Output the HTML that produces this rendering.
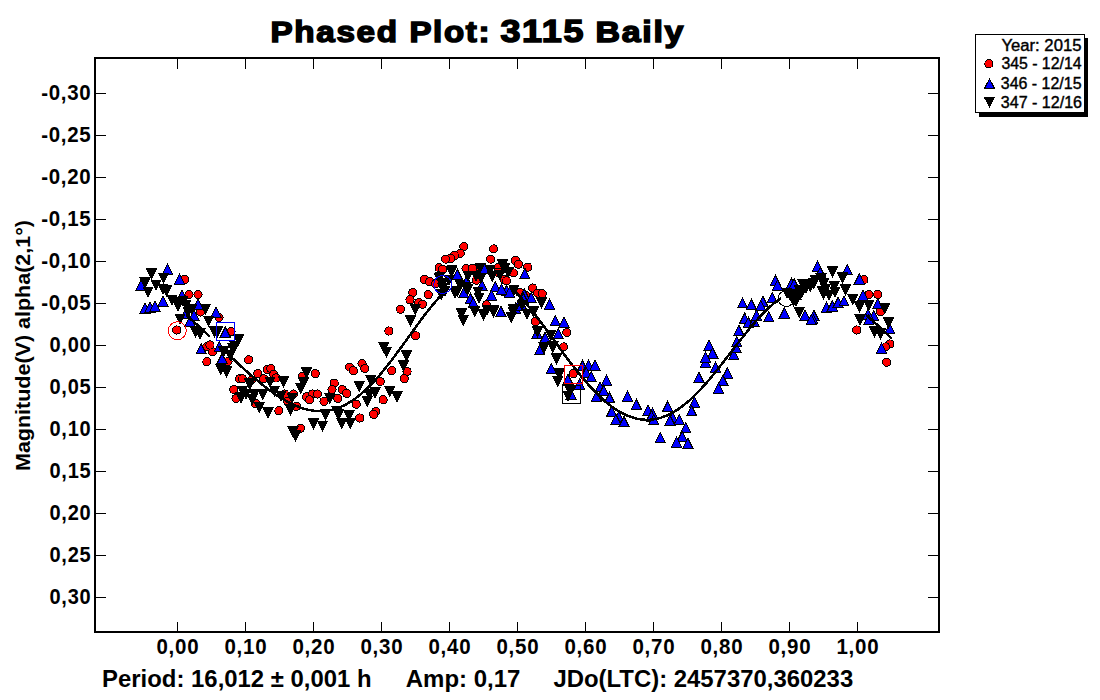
<!DOCTYPE html><html><head><meta charset="utf-8"><title>Phased Plot: 3115 Baily</title>
<style>html,body{margin:0;padding:0;background:#fff;width:1100px;height:700px;overflow:hidden}svg{display:block}text{font-family:'Liberation Sans', Arial, Helvetica, sans-serif}</style></head><body>
<svg width="1100" height="700" viewBox="0 0 1100 700">
<rect x="0" y="0" width="1100" height="700" fill="#fff"/>
<text y="42" font-size="30" font-weight="bold" stroke="#000" stroke-width="1.5" letter-spacing="1.5"><tspan x="270.50" font-size="30.00" textLength="128.10" lengthAdjust="spacingAndGlyphs">Phased</tspan> <tspan x="409.40" font-size="30.00" textLength="81.70" lengthAdjust="spacingAndGlyphs">Plot:</tspan> <tspan x="500.40" font-size="32.10" textLength="84.70" lengthAdjust="spacingAndGlyphs">3115</tspan> <tspan x="595.60" font-size="30.00" textLength="89.60" lengthAdjust="spacingAndGlyphs">Baily</tspan></text>
<rect x="95" y="58" width="844" height="574" fill="none" stroke="#000" stroke-width="2"/>
<path d="M96 93.5H106M928 93.5H938M96 135.5H106M928 135.5H938M96 177.5H106M928 177.5H938M96 219.5H106M928 219.5H938M96 261.5H106M928 261.5H938M96 303.5H106M928 303.5H938M96 345.5H106M928 345.5H938M96 387.5H106M928 387.5H938M96 429.5H106M928 429.5H938M96 471.5H106M928 471.5H938M96 513.5H106M928 513.5H938M96 555.5H106M928 555.5H938M96 597.5H106M928 597.5H938M177.5 59V69M177.5 622V631M245.5 59V69M245.5 622V631M313.5 59V69M313.5 622V631M381.5 59V69M381.5 622V631M449.5 59V69M449.5 622V631M517.5 59V69M517.5 622V631M585.5 59V69M585.5 622V631M653.5 59V69M653.5 622V631M721.5 59V69M721.5 622V631M789.5 59V69M789.5 622V631M857.5 59V69M857.5 622V631" stroke="#000" stroke-width="1" fill="none"/>
<text x="91.5" y="100.3" font-size="22" font-weight="bold" letter-spacing="0.8" text-anchor="end" textLength="50.36" lengthAdjust="spacingAndGlyphs">-0,30</text>
<text x="91.5" y="142.3" font-size="22" font-weight="bold" letter-spacing="0.8" text-anchor="end" textLength="50.36" lengthAdjust="spacingAndGlyphs">-0,25</text>
<text x="91.5" y="184.3" font-size="22" font-weight="bold" letter-spacing="0.8" text-anchor="end" textLength="50.36" lengthAdjust="spacingAndGlyphs">-0,20</text>
<text x="91.5" y="226.3" font-size="22" font-weight="bold" letter-spacing="0.8" text-anchor="end" textLength="50.36" lengthAdjust="spacingAndGlyphs">-0,15</text>
<text x="91.5" y="268.3" font-size="22" font-weight="bold" letter-spacing="0.8" text-anchor="end" textLength="50.36" lengthAdjust="spacingAndGlyphs">-0,10</text>
<text x="91.5" y="310.3" font-size="22" font-weight="bold" letter-spacing="0.8" text-anchor="end" textLength="50.36" lengthAdjust="spacingAndGlyphs">-0,05</text>
<text x="91.4" y="352.3" font-size="22" font-weight="bold" letter-spacing="0.8" text-anchor="end" textLength="41.87" lengthAdjust="spacingAndGlyphs">0,00</text>
<text x="91.4" y="394.3" font-size="22" font-weight="bold" letter-spacing="0.8" text-anchor="end" textLength="41.87" lengthAdjust="spacingAndGlyphs">0,05</text>
<text x="91.4" y="436.3" font-size="22" font-weight="bold" letter-spacing="0.8" text-anchor="end" textLength="41.87" lengthAdjust="spacingAndGlyphs">0,10</text>
<text x="91.4" y="478.3" font-size="22" font-weight="bold" letter-spacing="0.8" text-anchor="end" textLength="41.87" lengthAdjust="spacingAndGlyphs">0,15</text>
<text x="91.4" y="520.3" font-size="22" font-weight="bold" letter-spacing="0.8" text-anchor="end" textLength="41.87" lengthAdjust="spacingAndGlyphs">0,20</text>
<text x="91.4" y="562.3" font-size="22" font-weight="bold" letter-spacing="0.8" text-anchor="end" textLength="41.87" lengthAdjust="spacingAndGlyphs">0,25</text>
<text x="91.4" y="604.3" font-size="22" font-weight="bold" letter-spacing="0.8" text-anchor="end" textLength="41.87" lengthAdjust="spacingAndGlyphs">0,30</text>
<text x="177.9" y="653.7" font-size="22" font-weight="bold" letter-spacing="0.8" text-anchor="middle" textLength="42.87" lengthAdjust="spacingAndGlyphs">0,00</text>
<text x="245.9" y="653.7" font-size="22" font-weight="bold" letter-spacing="0.8" text-anchor="middle" textLength="42.87" lengthAdjust="spacingAndGlyphs">0,10</text>
<text x="313.9" y="653.7" font-size="22" font-weight="bold" letter-spacing="0.8" text-anchor="middle" textLength="42.87" lengthAdjust="spacingAndGlyphs">0,20</text>
<text x="381.9" y="653.7" font-size="22" font-weight="bold" letter-spacing="0.8" text-anchor="middle" textLength="42.87" lengthAdjust="spacingAndGlyphs">0,30</text>
<text x="449.9" y="653.7" font-size="22" font-weight="bold" letter-spacing="0.8" text-anchor="middle" textLength="42.87" lengthAdjust="spacingAndGlyphs">0,40</text>
<text x="517.9" y="653.7" font-size="22" font-weight="bold" letter-spacing="0.8" text-anchor="middle" textLength="42.87" lengthAdjust="spacingAndGlyphs">0,50</text>
<text x="585.9" y="653.7" font-size="22" font-weight="bold" letter-spacing="0.8" text-anchor="middle" textLength="42.87" lengthAdjust="spacingAndGlyphs">0,60</text>
<text x="653.9" y="653.7" font-size="22" font-weight="bold" letter-spacing="0.8" text-anchor="middle" textLength="42.87" lengthAdjust="spacingAndGlyphs">0,70</text>
<text x="721.9" y="653.7" font-size="22" font-weight="bold" letter-spacing="0.8" text-anchor="middle" textLength="42.87" lengthAdjust="spacingAndGlyphs">0,80</text>
<text x="789.9" y="653.7" font-size="22" font-weight="bold" letter-spacing="0.8" text-anchor="middle" textLength="42.87" lengthAdjust="spacingAndGlyphs">0,90</text>
<text x="857.9" y="653.7" font-size="22" font-weight="bold" letter-spacing="0.8" text-anchor="middle" textLength="42.87" lengthAdjust="spacingAndGlyphs">1,00</text>
<text transform="translate(30 471) rotate(-90)" x="0" y="0" font-size="21" font-weight="bold" textLength="251" lengthAdjust="spacingAndGlyphs">Magnitude(V) alpha(2,1°)</text>
<text x="102.1" y="686.8" font-size="23.5" font-weight="bold" textLength="269.5" lengthAdjust="spacingAndGlyphs">Period: 16,012 ± 0,001 h</text>
<text x="405.8" y="686.8" font-size="23.5" font-weight="bold" textLength="114.6" lengthAdjust="spacingAndGlyphs">Amp: 0,17</text>
<text x="553.4" y="686.8" font-size="23.5" font-weight="bold" textLength="299.8" lengthAdjust="spacingAndGlyphs">JDo(LTC): 2457370,360233</text>
<rect x="979" y="38" width="109" height="79" fill="#000"/>
<rect x="975.5" y="34.5" width="109" height="78" fill="#fff" stroke="#000" stroke-width="1"/>
<text x="1001.40" y="50.7" font-size="16" stroke="#000" stroke-width="0.4" textLength="80.10" lengthAdjust="spacingAndGlyphs">Year: 2015</text>
<text x="1001.40" y="69.4" font-size="16" stroke="#000" stroke-width="0.4" textLength="80.10" lengthAdjust="spacingAndGlyphs">345 - 12/14</text>
<text x="1000.80" y="88.6" font-size="16" stroke="#000" stroke-width="0.4" textLength="80.70" lengthAdjust="spacingAndGlyphs">346 - 12/15</text>
<text x="1000.80" y="107.5" font-size="16" stroke="#000" stroke-width="0.4" textLength="81.20" lengthAdjust="spacingAndGlyphs">347 - 12/16</text>
<g shape-rendering="crispEdges"><circle cx="988.9" cy="63.8" r="4.1" fill="#f00" stroke="#000" stroke-width="1"/>
<path d="M989.5 78.8L994.6 88.6H984.4Z" fill="#00f" stroke="#000" stroke-width="1"/>
<path d="M984.4 97.2H994.6L989.5 107.3Z" fill="#000" stroke="#000" stroke-width="1"/></g>
<defs><clipPath id="pc"><rect x="96" y="59" width="842" height="572"/></clipPath></defs>
<g clip-path="url(#pc)" shape-rendering="crispEdges">
<g fill="#f00" stroke="#000" stroke-width="1"><circle cx="184.5" cy="279.5" r="4.1"/><circle cx="189.0" cy="294.5" r="4.1"/><circle cx="198.0" cy="294.5" r="4.1"/><circle cx="200.5" cy="312.0" r="4.1"/><circle cx="219.0" cy="317.5" r="4.1"/><circle cx="176.8" cy="330.0" r="4.1"/><circle cx="231.1" cy="331.5" r="4.1"/><circle cx="206.9" cy="346.7" r="4.1"/><circle cx="212.7" cy="351.8" r="4.1"/><circle cx="210.0" cy="345.0" r="4.1"/><circle cx="206.9" cy="361.7" r="4.1"/><circle cx="228.0" cy="361.3" r="4.1"/><circle cx="248.7" cy="359.8" r="4.1"/><circle cx="257.8" cy="373.6" r="4.1"/><circle cx="267.3" cy="369.3" r="4.1"/><circle cx="270.9" cy="368.5" r="4.1"/><circle cx="273.8" cy="374.4" r="4.1"/><circle cx="263.6" cy="378.7" r="4.1"/><circle cx="276.0" cy="378.0" r="4.1"/><circle cx="239.6" cy="378.7" r="4.1"/><circle cx="242.5" cy="378.7" r="4.1"/><circle cx="251.3" cy="380.2" r="4.1"/><circle cx="302.2" cy="376.5" r="4.1"/><circle cx="315.3" cy="373.6" r="4.1"/><circle cx="233.8" cy="389.6" r="4.1"/><circle cx="236.0" cy="398.4" r="4.1"/><circle cx="284.7" cy="394.0" r="4.1"/><circle cx="293.5" cy="394.0" r="4.1"/><circle cx="287.6" cy="401.3" r="4.1"/><circle cx="255.6" cy="403.5" r="4.1"/><circle cx="278.9" cy="410.7" r="4.1"/><circle cx="296.4" cy="406.4" r="4.1"/><circle cx="306.5" cy="396.9" r="4.1"/><circle cx="312.4" cy="394.0" r="4.1"/><circle cx="317.5" cy="394.0" r="4.1"/><circle cx="309.5" cy="399.8" r="4.1"/><circle cx="324.0" cy="401.3" r="4.1"/><circle cx="334.2" cy="383.1" r="4.1"/><circle cx="332.0" cy="389.6" r="4.1"/><circle cx="337.8" cy="398.4" r="4.1"/><circle cx="300.4" cy="428.4" r="4.1"/><circle cx="388.9" cy="331.0" r="4.1"/><circle cx="415.8" cy="335.8" r="4.1"/><circle cx="391.8" cy="370.7" r="4.1"/><circle cx="407.1" cy="371.5" r="4.1"/><circle cx="404.2" cy="378.7" r="4.1"/><circle cx="349.6" cy="367.1" r="4.1"/><circle cx="353.3" cy="370.7" r="4.1"/><circle cx="362.0" cy="363.5" r="4.1"/><circle cx="364.9" cy="368.5" r="4.1"/><circle cx="380.2" cy="381.6" r="4.1"/><circle cx="342.4" cy="389.6" r="4.1"/><circle cx="346.7" cy="393.3" r="4.1"/><circle cx="383.1" cy="399.8" r="4.1"/><circle cx="356.2" cy="404.2" r="4.1"/><circle cx="375.8" cy="411.5" r="4.1"/><circle cx="373.6" cy="414.4" r="4.1"/><circle cx="359.8" cy="418.0" r="4.1"/><circle cx="463.8" cy="246.7" r="4.1"/><circle cx="460.2" cy="253.3" r="4.1"/><circle cx="454.4" cy="255.5" r="4.1"/><circle cx="450.7" cy="258.4" r="4.1"/><circle cx="445.6" cy="259.1" r="4.1"/><circle cx="493.6" cy="248.9" r="4.1"/><circle cx="490.7" cy="259.1" r="4.1"/><circle cx="439.1" cy="267.8" r="4.1"/><circle cx="442.7" cy="269.3" r="4.1"/><circle cx="424.5" cy="279.5" r="4.1"/><circle cx="429.6" cy="281.6" r="4.1"/><circle cx="435.5" cy="283.8" r="4.1"/><circle cx="412.9" cy="292.5" r="4.1"/><circle cx="410.0" cy="299.8" r="4.1"/><circle cx="428.2" cy="294.7" r="4.1"/><circle cx="418.7" cy="302.7" r="4.1"/><circle cx="422.4" cy="304.2" r="4.1"/><circle cx="400.5" cy="309.3" r="4.1"/><circle cx="466.0" cy="268.5" r="4.1"/><circle cx="472.5" cy="268.5" r="4.1"/><circle cx="480.5" cy="267.8" r="4.1"/><circle cx="476.2" cy="280.2" r="4.1"/><circle cx="498.7" cy="267.1" r="4.1"/><circle cx="498.0" cy="272.2" r="4.1"/><circle cx="513.3" cy="272.9" r="4.1"/><circle cx="515.5" cy="260.5" r="4.1"/><circle cx="518.4" cy="264.2" r="4.1"/><circle cx="527.8" cy="267.1" r="4.1"/><circle cx="504.5" cy="279.5" r="4.1"/><circle cx="486.4" cy="304.9" r="4.1"/><circle cx="519.8" cy="292.5" r="4.1"/><circle cx="506.5" cy="280.7" r="4.1"/><circle cx="532.7" cy="288.0" r="4.1"/><circle cx="537.8" cy="293.1" r="4.1"/><circle cx="542.2" cy="293.8" r="4.1"/><circle cx="525.5" cy="295.3" r="4.1"/><circle cx="535.6" cy="321.5" r="4.1"/><circle cx="566.9" cy="332.4" r="4.1"/><circle cx="563.6" cy="346.9" r="4.1"/><circle cx="573.1" cy="373.8" r="4.1"/><circle cx="863.9" cy="279.8" r="4.1"/><circle cx="869.0" cy="294.4" r="4.1"/><circle cx="877.7" cy="294.4" r="4.1"/><circle cx="880.4" cy="311.8" r="4.1"/><circle cx="856.8" cy="330.0" r="4.1"/><circle cx="889.8" cy="344.0" r="4.1"/><circle cx="885.6" cy="346.9" r="4.1"/><circle cx="886.7" cy="362.2" r="4.1"/></g>
<g fill="#00f" stroke="#000" stroke-width="1"><path d="M167.5 264.3l5.1 10.2h-10.2z"/><path d="M179.5 274.3l5.1 10.2h-10.2z"/><path d="M141.0 280.3l5.1 10.2h-10.2z"/><path d="M182.0 289.8l5.1 10.2h-10.2z"/><path d="M145.0 302.8l5.1 10.2h-10.2z"/><path d="M150.0 301.8l5.1 10.2h-10.2z"/><path d="M155.0 300.8l5.1 10.2h-10.2z"/><path d="M163.0 295.8l5.1 10.2h-10.2z"/><path d="M198.0 298.8l5.1 10.2h-10.2z"/><path d="M194.0 309.8l5.1 10.2h-10.2z"/><path d="M186.0 307.8l5.1 10.2h-10.2z"/><path d="M216.0 306.8l5.1 10.2h-10.2z"/><path d="M190.0 315.8l5.1 10.2h-10.2z"/><path d="M225.3 327.0l5.1 10.2h-10.2z"/><path d="M201.1 343.7l5.1 10.2h-10.2z"/><path d="M219.3 341.5l5.1 10.2h-10.2z"/><path d="M222.2 353.2l5.1 10.2h-10.2z"/><path d="M457.3 269.2l5.1 10.2h-10.2z"/><path d="M484.9 263.3l5.1 10.2h-10.2z"/><path d="M466.7 275.7l5.1 10.2h-10.2z"/><path d="M482.0 280.1l5.1 10.2h-10.2z"/><path d="M463.8 287.3l5.1 10.2h-10.2z"/><path d="M470.4 293.2l5.1 10.2h-10.2z"/><path d="M473.3 297.5l5.1 10.2h-10.2z"/><path d="M524.9 268.4l5.1 10.2h-10.2z"/><path d="M495.1 281.5l5.1 10.2h-10.2z"/><path d="M491.5 290.3l5.1 10.2h-10.2z"/><path d="M506.7 285.2l5.1 10.2h-10.2z"/><path d="M500.9 306.3l5.1 10.2h-10.2z"/><path d="M515.5 303.3l5.1 10.2h-10.2z"/><path d="M524.2 288.8l5.1 10.2h-10.2z"/><path d="M521.3 299.0l5.1 10.2h-10.2z"/><path d="M509.5 287.2l5.1 10.2h-10.2z"/><path d="M501.5 284.3l5.1 10.2h-10.2z"/><path d="M531.3 292.3l5.1 10.2h-10.2z"/><path d="M523.3 293.0l5.1 10.2h-10.2z"/><path d="M549.5 298.8l5.1 10.2h-10.2z"/><path d="M518.2 300.3l5.1 10.2h-10.2z"/><path d="M555.3 315.5l5.1 10.2h-10.2z"/><path d="M564.0 317.0l5.1 10.2h-10.2z"/><path d="M537.1 327.9l5.1 10.2h-10.2z"/><path d="M558.2 328.6l5.1 10.2h-10.2z"/><path d="M545.1 332.3l5.1 10.2h-10.2z"/><path d="M539.6 344.6l5.1 10.2h-10.2z"/><path d="M551.3 363.5l5.1 10.2h-10.2z"/><path d="M582.5 360.6l5.1 10.2h-10.2z"/><path d="M588.4 359.9l5.1 10.2h-10.2z"/><path d="M594.9 359.9l5.1 10.2h-10.2z"/><path d="M586.2 367.2l5.1 10.2h-10.2z"/><path d="M591.3 371.5l5.1 10.2h-10.2z"/><path d="M568.0 374.4l5.1 10.2h-10.2z"/><path d="M579.6 378.8l5.1 10.2h-10.2z"/><path d="M570.9 389.0l5.1 10.2h-10.2z"/><path d="M606.5 375.2l5.1 10.2h-10.2z"/><path d="M600.0 381.7l5.1 10.2h-10.2z"/><path d="M603.6 385.3l5.1 10.2h-10.2z"/><path d="M596.4 391.2l5.1 10.2h-10.2z"/><path d="M609.5 392.6l5.1 10.2h-10.2z"/><path d="M627.6 391.2l5.1 10.2h-10.2z"/><path d="M636.4 399.2l5.1 10.2h-10.2z"/><path d="M648.0 405.0l5.1 10.2h-10.2z"/><path d="M652.4 407.9l5.1 10.2h-10.2z"/><path d="M667.6 401.3l5.1 10.2h-10.2z"/><path d="M611.6 406.4l5.1 10.2h-10.2z"/><path d="M618.9 411.5l5.1 10.2h-10.2z"/><path d="M672.7 412.3l5.1 10.2h-10.2z"/><path d="M616.0 414.4l5.1 10.2h-10.2z"/><path d="M624.0 416.6l5.1 10.2h-10.2z"/><path d="M651.6 410.8l5.1 10.2h-10.2z"/><path d="M653.8 414.4l5.1 10.2h-10.2z"/><path d="M669.8 415.2l5.1 10.2h-10.2z"/><path d="M679.3 414.4l5.1 10.2h-10.2z"/><path d="M685.8 422.4l5.1 10.2h-10.2z"/><path d="M660.4 432.6l5.1 10.2h-10.2z"/><path d="M682.2 431.2l5.1 10.2h-10.2z"/><path d="M676.4 437.0l5.1 10.2h-10.2z"/><path d="M688.0 438.4l5.1 10.2h-10.2z"/><path d="M694.5 397.0l5.1 10.2h-10.2z"/><path d="M691.6 405.7l5.1 10.2h-10.2z"/><path d="M698.9 372.3l5.1 10.2h-10.2z"/><path d="M705.5 357.0l5.1 10.2h-10.2z"/><path d="M715.6 362.1l5.1 10.2h-10.2z"/><path d="M727.3 367.9l5.1 10.2h-10.2z"/><path d="M722.9 375.2l5.1 10.2h-10.2z"/><path d="M718.5 383.2l5.1 10.2h-10.2z"/><path d="M709.1 339.9l5.1 10.2h-10.2z"/><path d="M712.7 347.9l5.1 10.2h-10.2z"/><path d="M705.5 352.3l5.1 10.2h-10.2z"/><path d="M733.8 349.3l5.1 10.2h-10.2z"/><path d="M736.0 342.1l5.1 10.2h-10.2z"/><path d="M736.7 336.3l5.1 10.2h-10.2z"/><path d="M738.9 325.3l5.1 10.2h-10.2z"/><path d="M744.7 313.0l5.1 10.2h-10.2z"/><path d="M748.4 317.3l5.1 10.2h-10.2z"/><path d="M754.2 316.6l5.1 10.2h-10.2z"/><path d="M756.4 310.1l5.1 10.2h-10.2z"/><path d="M742.5 297.7l5.1 10.2h-10.2z"/><path d="M751.3 299.2l5.1 10.2h-10.2z"/><path d="M762.9 296.3l5.1 10.2h-10.2z"/><path d="M760.7 300.6l5.1 10.2h-10.2z"/><path d="M768.7 311.5l5.1 10.2h-10.2z"/><path d="M772.4 292.6l5.1 10.2h-10.2z"/><path d="M775.3 275.2l5.1 10.2h-10.2z"/><path d="M777.5 280.3l5.1 10.2h-10.2z"/><path d="M791.3 278.1l5.1 10.2h-10.2z"/><path d="M794.2 278.8l5.1 10.2h-10.2z"/><path d="M784.0 307.9l5.1 10.2h-10.2z"/><path d="M796.4 289.7l5.1 10.2h-10.2z"/><path d="M805.1 310.1l5.1 10.2h-10.2z"/><path d="M813.8 310.1l5.1 10.2h-10.2z"/><path d="M812.4 313.0l5.1 10.2h-10.2z"/><path d="M817.5 260.8l5.1 10.2h-10.2z"/><path d="M820.4 267.2l5.1 10.2h-10.2z"/><path d="M847.2 264.4l5.1 10.2h-10.2z"/><path d="M859.3 273.9l5.1 10.2h-10.2z"/><path d="M862.9 289.9l5.1 10.2h-10.2z"/><path d="M826.5 302.3l5.1 10.2h-10.2z"/><path d="M832.4 300.8l5.1 10.2h-10.2z"/><path d="M838.2 297.2l5.1 10.2h-10.2z"/><path d="M844.0 295.7l5.1 10.2h-10.2z"/><path d="M877.7 298.6l5.1 10.2h-10.2z"/><path d="M873.8 310.3l5.1 10.2h-10.2z"/><path d="M868.0 308.8l5.1 10.2h-10.2z"/><path d="M784.4 308.1l5.1 10.2h-10.2z"/><path d="M811.3 314.6l5.1 10.2h-10.2z"/><path d="M889.8 323.3l5.1 10.2h-10.2z"/><path d="M881.5 343.3l5.1 10.2h-10.2z"/><path d="M868.7 314.4l5.1 10.2h-10.2z"/></g>
<polyline points="186.0,315.0 188.0,316.8 190.0,318.5 192.0,320.2 194.0,322.0 196.0,323.8 198.0,325.6 200.0,327.5 202.0,329.3 204.0,331.2 206.0,333.1 208.0,334.9 210.0,336.8" fill="none" stroke="#000" stroke-width="2.5" stroke-linejoin="round"/>
<polyline points="232.0,357.9 234.0,359.7 236.0,361.6 238.0,363.5 240.0,365.3 242.0,367.2 244.0,369.0 246.0,370.8 248.0,372.6 250.0,374.3 252.0,376.1 254.0,377.8 256.0,379.5 258.0,381.1 260.0,382.8 262.0,384.4 264.0,386.0 266.0,387.5 268.0,389.0 270.0,390.5 272.0,392.0 274.0,393.4 276.0,394.7 278.0,396.1 280.0,397.3 282.0,398.6 284.0,399.8 286.0,400.9 288.0,402.0 290.0,403.0 292.0,404.0 294.0,404.9 296.0,405.8 298.0,406.6 300.0,407.4 302.0,408.1 304.0,408.7 306.0,409.2 308.0,409.7 310.0,410.1 312.0,410.5 314.0,410.8 316.0,411.0 318.0,411.1 320.0,411.1 322.0,411.1 324.0,411.0 326.0,410.8 328.0,410.5 330.0,410.2 332.0,409.7 334.0,409.2 336.0,408.6 338.0,407.9 340.0,407.2 342.0,406.3 344.0,405.4 346.0,404.4 348.0,403.2 350.0,402.0 352.0,400.8 354.0,399.4 356.0,398.0 358.0,396.4 360.0,394.8 362.0,393.1 364.0,391.4 366.0,389.5 368.0,387.6 370.0,385.6 372.0,383.6 374.0,381.4 376.0,379.2 378.0,377.0 380.0,374.7 382.0,372.3 384.0,369.9 386.0,367.4 388.0,364.9 390.0,362.3 392.0,359.7 394.0,357.0 396.0,354.3 398.0,351.6 400.0,348.9 402.0,346.1 404.0,343.4 406.0,340.6 408.0,337.8 410.0,335.0 412.0,332.2 414.0,329.5 416.0,326.7 418.0,324.0 420.0,321.3 422.0,318.6 424.0,315.9 426.0,313.3 428.0,310.7 430.0,308.2 432.0,305.8 434.0,303.4 436.0,301.0 438.0,298.7 440.0,296.5 442.0,294.4 444.0,292.4 446.0,290.4" fill="none" stroke="#000" stroke-width="2.5" stroke-linejoin="round"/>
<polyline points="511.0,287.8 513.0,289.6 515.0,291.5 517.0,293.5 519.0,295.6 521.0,297.7 523.0,299.9 525.0,302.2 527.0,304.6 529.0,307.0 531.0,309.5 533.0,312.0 535.0,314.5 537.0,317.1 539.0,319.8 541.0,322.5 543.0,325.1 545.0,327.9 547.0,330.6 549.0,333.4 551.0,336.1 553.0,338.9 555.0,341.7 557.0,344.4 559.0,347.2 561.0,350.0 563.0,352.7 565.0,355.4 567.0,358.1 569.0,360.8 571.0,363.4 573.0,366.0 575.0,368.6 577.0,371.1 579.0,373.6 581.0,376.1 583.0,378.5 585.0,380.8 587.0,383.1 589.0,385.4 591.0,387.6 593.0,389.7 595.0,391.8 597.0,393.8 599.0,395.7 601.0,397.6 603.0,399.4 605.0,401.2 607.0,402.8 609.0,404.4 611.0,406.0 613.0,407.4 615.0,408.8 617.0,410.1 619.0,411.3 621.0,412.5 623.0,413.5 625.0,414.5 627.0,415.4 629.0,416.3 631.0,417.0 633.0,417.6 635.0,418.2 637.0,418.7 639.0,419.1 641.0,419.4 643.0,419.6 645.0,419.8 647.0,419.8 649.0,419.8 651.0,419.7 653.0,419.4 655.0,419.1 657.0,418.7 659.0,418.3 661.0,417.7 663.0,417.0 665.0,416.3 667.0,415.5 669.0,414.5 671.0,413.5 673.0,412.4 675.0,411.3 677.0,410.0 679.0,408.7 681.0,407.2 683.0,405.7 685.0,404.1 687.0,402.5 689.0,400.8 691.0,398.9 693.0,397.1 695.0,395.1 697.0,393.1 699.0,391.1 701.0,388.9 703.0,386.7 705.0,384.5 707.0,382.2 709.0,379.9 711.0,377.5 713.0,375.1 715.0,372.6 717.0,370.1 719.0,367.6 721.0,365.1 723.0,362.5 725.0,359.9 727.0,357.3 729.0,354.7 731.0,352.1 733.0,349.5 735.0,346.9 737.0,344.3 739.0,341.7 741.0,339.2 743.0,336.7 745.0,334.2 747.0,331.7 749.0,329.2 751.0,326.8 753.0,324.5 755.0,322.2 757.0,319.9 759.0,317.7 761.0,315.6 763.0,313.5 765.0,311.5 767.0,309.5 769.0,307.6 771.0,305.8 773.0,304.1 775.0,302.4 777.0,300.9 779.0,299.4 781.0,298.0" fill="none" stroke="#000" stroke-width="2.5" stroke-linejoin="round"/>
<polyline points="866.0,315.0 868.0,316.8 870.0,318.5 872.0,320.2 874.0,322.0 876.0,323.8 878.0,325.6 880.0,327.5 882.0,329.3 884.0,331.2 886.0,333.1 888.0,334.9 890.0,336.8 892.0,338.8" fill="none" stroke="#000" stroke-width="2.5" stroke-linejoin="round"/>
<g fill="#000" stroke="#000" stroke-width="1"><path d="M146.4 268.5h10.2l-5.1 10.2z"/><path d="M158.4 273.0h10.2l-5.1 10.2z"/><path d="M139.9 277.5h10.2l-5.1 10.2z"/><path d="M150.9 280.0h10.2l-5.1 10.2z"/><path d="M157.9 284.0h10.2l-5.1 10.2z"/><path d="M142.9 287.0h10.2l-5.1 10.2z"/><path d="M166.9 295.0h10.2l-5.1 10.2z"/><path d="M172.9 301.0h10.2l-5.1 10.2z"/><path d="M180.9 300.0h10.2l-5.1 10.2z"/><path d="M200.4 304.0h10.2l-5.1 10.2z"/><path d="M174.9 314.0h10.2l-5.1 10.2z"/><path d="M203.4 316.0h10.2l-5.1 10.2z"/><path d="M190.4 326.5h10.2l-5.1 10.2z"/><path d="M194.7 328.6h10.2l-5.1 10.2z"/><path d="M209.3 326.5h10.2l-5.1 10.2z"/><path d="M233.3 334.5h10.2l-5.1 10.2z"/><path d="M229.6 341.0h10.2l-5.1 10.2z"/><path d="M228.0 343.9h10.2l-5.1 10.2z"/><path d="M218.5 346.8h10.2l-5.1 10.2z"/><path d="M225.1 350.5h10.2l-5.1 10.2z"/><path d="M215.6 364.3h10.2l-5.1 10.2z"/><path d="M221.4 366.5h10.2l-5.1 10.2z"/><path d="M244.7 378.8h10.2l-5.1 10.2z"/><path d="M278.2 376.6h10.2l-5.1 10.2z"/><path d="M301.4 367.2h10.2l-5.1 10.2z"/><path d="M298.5 377.4h10.2l-5.1 10.2z"/><path d="M295.6 383.2h10.2l-5.1 10.2z"/><path d="M237.4 386.1h10.2l-5.1 10.2z"/><path d="M249.1 389.0h10.2l-5.1 10.2z"/><path d="M257.8 389.0h10.2l-5.1 10.2z"/><path d="M236.0 392.6h10.2l-5.1 10.2z"/><path d="M269.4 386.1h10.2l-5.1 10.2z"/><path d="M254.2 402.1h10.2l-5.1 10.2z"/><path d="M262.9 407.9h10.2l-5.1 10.2z"/><path d="M285.4 404.3h10.2l-5.1 10.2z"/><path d="M324.7 393.4h10.2l-5.1 10.2z"/><path d="M320.4 409.4h10.2l-5.1 10.2z"/><path d="M331.9 406.5h10.2l-5.1 10.2z"/><path d="M308.4 418.5h10.2l-5.1 10.2z"/><path d="M317.4 421.0h10.2l-5.1 10.2z"/><path d="M287.9 426.5h10.2l-5.1 10.2z"/><path d="M378.7 342.5h10.2l-5.1 10.2z"/><path d="M401.3 350.5h10.2l-5.1 10.2z"/><path d="M398.4 360.6h10.2l-5.1 10.2z"/><path d="M365.6 375.2h10.2l-5.1 10.2z"/><path d="M354.0 381.0h10.2l-5.1 10.2z"/><path d="M364.2 389.0h10.2l-5.1 10.2z"/><path d="M370.0 387.5h10.2l-5.1 10.2z"/><path d="M384.5 386.1h10.2l-5.1 10.2z"/><path d="M391.8 391.9h10.2l-5.1 10.2z"/><path d="M362.0 396.3h10.2l-5.1 10.2z"/><path d="M333.6 409.4h10.2l-5.1 10.2z"/><path d="M343.8 410.8h10.2l-5.1 10.2z"/><path d="M336.5 418.1h10.2l-5.1 10.2z"/><path d="M345.3 418.1h10.2l-5.1 10.2z"/><path d="M410.0 304.3h10.2l-5.1 10.2z"/><path d="M405.4 315.5h10.2l-5.1 10.2z"/><path d="M434.0 273.0h10.2l-5.1 10.2z"/><path d="M437.6 283.2h10.2l-5.1 10.2z"/><path d="M436.2 289.0h10.2l-5.1 10.2z"/><path d="M446.4 266.5h10.2l-5.1 10.2z"/><path d="M452.2 286.1h10.2l-5.1 10.2z"/><path d="M460.9 282.5h10.2l-5.1 10.2z"/><path d="M487.1 271.5h10.2l-5.1 10.2z"/><path d="M497.3 259.9h10.2l-5.1 10.2z"/><path d="M503.1 267.2h10.2l-5.1 10.2z"/><path d="M456.5 308.6h10.2l-5.1 10.2z"/><path d="M458.0 315.2h10.2l-5.1 10.2z"/><path d="M469.6 306.5h10.2l-5.1 10.2z"/><path d="M478.4 309.4h10.2l-5.1 10.2z"/><path d="M488.5 306.5h10.2l-5.1 10.2z"/><path d="M506.0 312.3h10.2l-5.1 10.2z"/><path d="M536.4 297.5h10.2l-5.1 10.2z"/><path d="M508.7 304.8h10.2l-5.1 10.2z"/><path d="M528.4 306.3h10.2l-5.1 10.2z"/><path d="M545.8 330.3h10.2l-5.1 10.2z"/><path d="M532.4 326.6h10.2l-5.1 10.2z"/><path d="M538.9 342.6h10.2l-5.1 10.2z"/><path d="M547.6 341.9h10.2l-5.1 10.2z"/><path d="M551.3 353.5h10.2l-5.1 10.2z"/><path d="M554.2 368.8h10.2l-5.1 10.2z"/><path d="M552.7 376.1h10.2l-5.1 10.2z"/><path d="M565.1 386.3h10.2l-5.1 10.2z"/><path d="M788.4 295.7h10.2l-5.1 10.2z"/><path d="M793.9 285.0h10.2l-5.1 10.2z"/><path d="M800.9 283.0h10.2l-5.1 10.2z"/><path d="M794.2 307.4h10.2l-5.1 10.2z"/><path d="M827.6 266.6h10.2l-5.1 10.2z"/><path d="M816.0 273.9h10.2l-5.1 10.2z"/><path d="M820.4 284.1h10.2l-5.1 10.2z"/><path d="M829.1 281.2h10.2l-5.1 10.2z"/><path d="M808.7 278.3h10.2l-5.1 10.2z"/><path d="M837.4 272.6h10.2l-5.1 10.2z"/><path d="M798.2 279.9h10.2l-5.1 10.2z"/><path d="M818.5 278.5h10.2l-5.1 10.2z"/><path d="M840.4 284.3h10.2l-5.1 10.2z"/><path d="M818.5 288.6h10.2l-5.1 10.2z"/><path d="M789.4 291.5h10.2l-5.1 10.2z"/><path d="M847.6 294.5h10.2l-5.1 10.2z"/><path d="M854.2 301.7h10.2l-5.1 10.2z"/><path d="M863.6 300.3h10.2l-5.1 10.2z"/><path d="M879.6 303.2h10.2l-5.1 10.2z"/><path d="M854.9 314.8h10.2l-5.1 10.2z"/><path d="M883.3 317.5h10.2l-5.1 10.2z"/><path d="M869.4 326.5h10.2l-5.1 10.2z"/><path d="M875.3 328.6h10.2l-5.1 10.2z"/><path d="M161.4 285.7h10.2l-5.1 10.2z"/><path d="M182.9 307.0h10.2l-5.1 10.2z"/><path d="M177.9 296.0h10.2l-5.1 10.2z"/><path d="M186.9 304.0h10.2l-5.1 10.2z"/><path d="M170.9 297.0h10.2l-5.1 10.2z"/><path d="M212.2 326.9h10.2l-5.1 10.2z"/><path d="M796.6 287.5h10.2l-5.1 10.2z"/><path d="M784.8 289.9h10.2l-5.1 10.2z"/><path d="M817.0 286.0h10.2l-5.1 10.2z"/><path d="M805.2 281.0h10.2l-5.1 10.2z"/><path d="M829.9 287.0h10.2l-5.1 10.2z"/><path d="M809.9 275.0h10.2l-5.1 10.2z"/><path d="M791.0 295.4h10.2l-5.1 10.2z"/><path d="M446.9 265.0h10.2l-5.1 10.2z"/><path d="M434.9 272.0h10.2l-5.1 10.2z"/><path d="M439.9 286.0h10.2l-5.1 10.2z"/><path d="M449.9 288.0h10.2l-5.1 10.2z"/><path d="M454.9 280.0h10.2l-5.1 10.2z"/><path d="M462.9 271.0h10.2l-5.1 10.2z"/><path d="M470.9 271.0h10.2l-5.1 10.2z"/><path d="M462.9 284.0h10.2l-5.1 10.2z"/><path d="M472.9 287.0h10.2l-5.1 10.2z"/><path d="M443.9 275.0h10.2l-5.1 10.2z"/><path d="M474.9 263.0h10.2l-5.1 10.2z"/><path d="M484.9 265.0h10.2l-5.1 10.2z"/><path d="M494.9 270.0h10.2l-5.1 10.2z"/><path d="M475.9 273.0h10.2l-5.1 10.2z"/><path d="M499.9 263.0h10.2l-5.1 10.2z"/><path d="M473.9 293.0h10.2l-5.1 10.2z"/><path d="M481.9 305.0h10.2l-5.1 10.2z"/><path d="M488.9 305.0h10.2l-5.1 10.2z"/><path d="M507.9 307.0h10.2l-5.1 10.2z"/><path d="M508.9 285.0h10.2l-5.1 10.2z"/><path d="M516.9 300.0h10.2l-5.1 10.2z"/><path d="M521.9 309.0h10.2l-5.1 10.2z"/><path d="M264.9 377.0h10.2l-5.1 10.2z"/><path d="M247.2 394.2h10.2l-5.1 10.2z"/><path d="M275.9 391.0h10.2l-5.1 10.2z"/><path d="M240.9 389.0h10.2l-5.1 10.2z"/><path d="M286.9 393.0h10.2l-5.1 10.2z"/><path d="M437.9 278.0h10.2l-5.1 10.2z"/><path d="M781.9 288.0h10.2l-5.1 10.2z"/><path d="M562.9 391.0h10.2l-5.1 10.2z"/><path d="M290.4 430.5h10.2l-5.1 10.2z"/><path d="M381.4 347.0h10.2l-5.1 10.2z"/><path d="M823.9 290.0h10.2l-5.1 10.2z"/></g>
<circle cx="177.3" cy="330.7" r="9" fill="none" stroke="#f00" stroke-width="1"/>
<circle cx="442.7" cy="284.5" r="9" fill="none" stroke="#00f" stroke-width="1"/>
<circle cx="786.2" cy="298.5" r="8" fill="none" stroke="#000" stroke-width="1"/>
<rect x="216.5" y="322.5" width="18" height="18" fill="none" stroke="#00f" stroke-width="1"/>
<rect x="564.5" y="365.5" width="18" height="18" fill="none" stroke="#f00" stroke-width="1"/>
<rect x="562.5" y="385.5" width="18" height="18" fill="none" stroke="#000" stroke-width="1"/>
</g>
</svg></body></html>
